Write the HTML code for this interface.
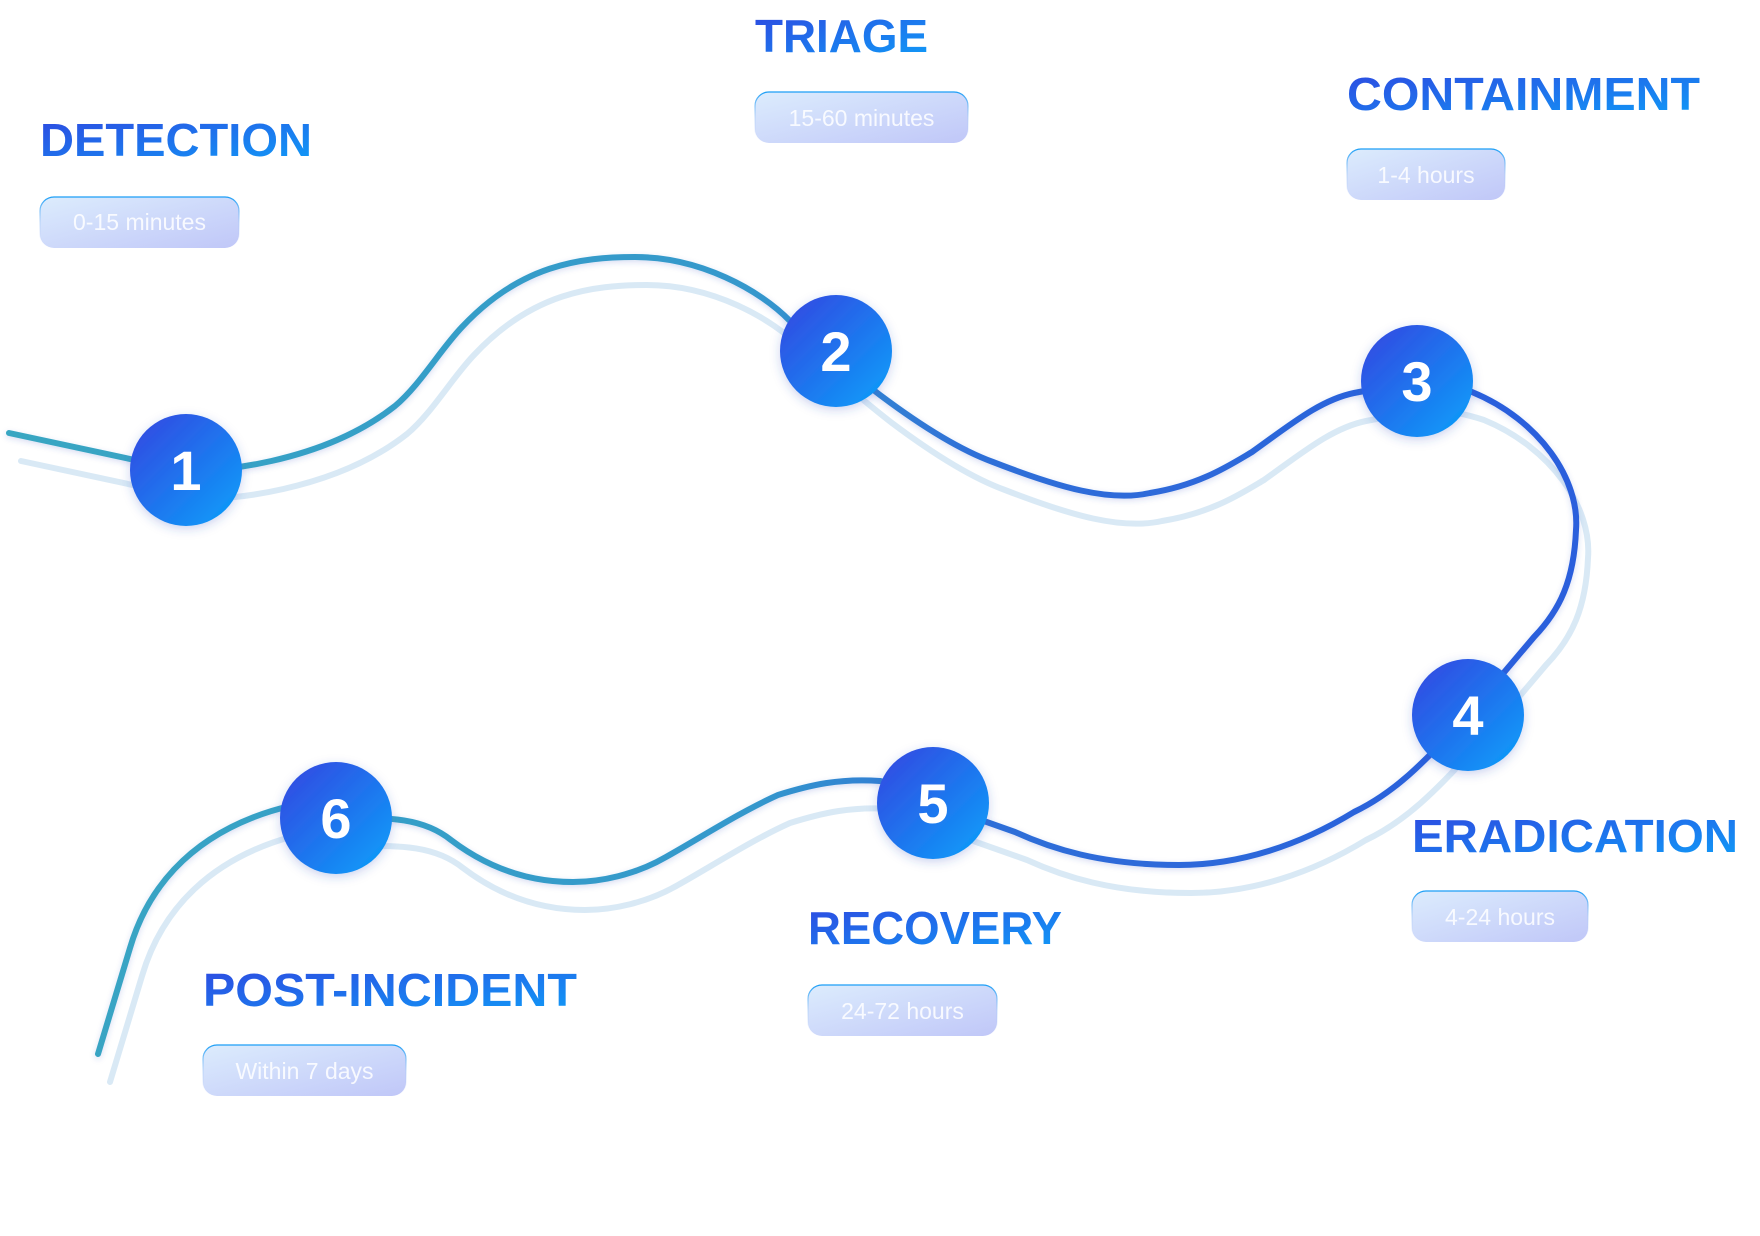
<!DOCTYPE html>
<html><head><meta charset="utf-8"><style>
html,body{margin:0;padding:0;background:#fff;width:1760px;height:1236px;overflow:hidden}
svg{display:block}
.t{font-family:"Liberation Sans",sans-serif;font-weight:700;font-size:46px}
.p{font-family:"Liberation Sans",sans-serif;font-size:23px;fill:rgba(255,255,255,0.85)}
.n{font-family:"Liberation Sans",sans-serif;font-weight:700;font-size:56px;fill:#fff}
</style></head><body>
<svg width="1760" height="1236" viewBox="0 0 1760 1236" xmlns="http://www.w3.org/2000/svg">
<defs>
<linearGradient id="tg" x1="0" y1="0" x2="1" y2="1"><stop offset="0" stop-color="#2e48e0"/><stop offset="1" stop-color="#0f9df8"/></linearGradient>
<linearGradient id="cg" x1="0" y1="0" x2="1" y2="1"><stop offset="0" stop-color="#3544e0"/><stop offset="1" stop-color="#0aa2fb"/></linearGradient>
<linearGradient id="pg" x1="0" y1="0" x2="1" y2="1"><stop offset="0" stop-color="#dcecfd"/><stop offset="1" stop-color="#c0c7f8"/></linearGradient>
<linearGradient id="pb" x1="0" y1="0" x2="0" y2="1"><stop offset="0" stop-color="#1a9ef6"/><stop offset="0.5" stop-color="#9ec4f6" stop-opacity="0.5"/><stop offset="1" stop-color="#c0c7f8" stop-opacity="0"/></linearGradient>
<linearGradient id="lg" gradientUnits="userSpaceOnUse" x1="0" y1="0" x2="1500" y2="0"><stop offset="0" stop-color="#38a6c2"/><stop offset="0.5" stop-color="#3498cc"/><stop offset="0.65" stop-color="#2f6fd8"/><stop offset="1" stop-color="#2a5fdc"/></linearGradient>
<filter id="sh" x="-30%" y="-30%" width="160%" height="160%"><feDropShadow dx="0" dy="3" stdDeviation="5" flood-color="#3050c0" flood-opacity="0.25"/></filter>
<filter id="ls"><feDropShadow dx="0" dy="2" stdDeviation="3" flood-color="#3050c0" flood-opacity="0.2"/></filter>
</defs>
<g fill="none" stroke-linecap="round" stroke-linejoin="round">
<path id="ghost" transform="translate(12,28)" stroke="#cfe3f2" stroke-opacity="0.8" stroke-width="6" d="M9,433 L186,471 C210,472 320,465 395,406 C420,385 440,350 462,327 C520,265 580,257 635,257 C700,257 760,290 790,321 C820,345 850,372 880,395 C920,425 960,450 993,462 C1060,488 1110,502 1150,493 C1200,485 1230,465 1252,452 C1290,425 1320,400 1354,393 L1417,381 C1440,383 1460,388 1472,392 C1540,420 1580,480 1576,530 C1574,580 1560,610 1534,637 L1468,715 C1430,755 1400,790 1354,812 C1300,845 1240,865 1179,865 C1100,865 1050,848 1015,832 L933,803 C900,785 880,781 880,781 C840,778 810,785 778,795 C740,812 700,838 666,857 C635,875 600,882 573,882 C520,882 480,862 451,840 C420,815 380,818 336,818 C310,810 282,808 282,808 C200,830 150,880 130,948 L98,1054"/>
<path filter="url(#ls)" stroke="url(#lg)" stroke-width="6" d="M9,433 L186,471 C210,472 320,465 395,406 C420,385 440,350 462,327 C520,265 580,257 635,257 C700,257 760,290 790,321 C820,345 850,372 880,395 C920,425 960,450 993,462 C1060,488 1110,502 1150,493 C1200,485 1230,465 1252,452 C1290,425 1320,400 1354,393 L1417,381 C1440,383 1460,388 1472,392 C1540,420 1580,480 1576,530 C1574,580 1560,610 1534,637 L1468,715 C1430,755 1400,790 1354,812 C1300,845 1240,865 1179,865 C1100,865 1050,848 1015,832 L933,803 C900,785 880,781 880,781 C840,778 810,785 778,795 C740,812 700,838 666,857 C635,875 600,882 573,882 C520,882 480,862 451,840 C420,815 380,818 336,818 C310,810 282,808 282,808 C200,830 150,880 130,948 L98,1054"/>
</g>
<g filter="url(#sh)">
<circle cx="186" cy="470" r="56" fill="url(#cg)"/>
<circle cx="836" cy="351" r="56" fill="url(#cg)"/>
<circle cx="1417" cy="381" r="56" fill="url(#cg)"/>
<circle cx="1468" cy="715" r="56" fill="url(#cg)"/>
<circle cx="933" cy="803" r="56" fill="url(#cg)"/>
<circle cx="336" cy="818" r="56" fill="url(#cg)"/>
</g>
<g class="n" text-anchor="middle">
<text x="186" y="490" class="n">1</text>
<text x="836" y="371" class="n">2</text>
<text x="1417" y="401" class="n">3</text>
<text x="1468" y="735" class="n">4</text>
<text x="933" y="823" class="n">5</text>
<text x="336" y="838" class="n">6</text>
</g>
<g fill="url(#tg)">
<text class="t" x="40" y="156" textLength="272" lengthAdjust="spacingAndGlyphs">DETECTION</text>
<text class="t" x="755" y="52" textLength="173" lengthAdjust="spacingAndGlyphs">TRIAGE</text>
<text class="t" x="1347" y="110" textLength="353" lengthAdjust="spacingAndGlyphs">CONTAINMENT</text>
<text class="t" x="1412" y="852" textLength="326" lengthAdjust="spacingAndGlyphs">ERADICATION</text>
<text class="t" x="808" y="944" textLength="254" lengthAdjust="spacingAndGlyphs">RECOVERY</text>
<text class="t" x="203" y="1006" textLength="374" lengthAdjust="spacingAndGlyphs">POST-INCIDENT</text>
</g>
<g>
<rect x="40" y="197" width="199" height="51" rx="14" fill="url(#pg)" stroke="url(#pb)" stroke-width="1.2"/>
<text class="p" x="139.5" y="230" text-anchor="middle">0-15 minutes</text>
<rect x="755" y="92" width="213" height="51" rx="14" fill="url(#pg)" stroke="url(#pb)" stroke-width="1.2"/>
<text class="p" x="861.5" y="126" text-anchor="middle">15-60 minutes</text>
<rect x="1347" y="149" width="158" height="51" rx="14" fill="url(#pg)" stroke="url(#pb)" stroke-width="1.2"/>
<text class="p" x="1426" y="183" text-anchor="middle">1-4 hours</text>
<rect x="1412" y="891" width="176" height="51" rx="14" fill="url(#pg)" stroke="url(#pb)" stroke-width="1.2"/>
<text class="p" x="1500" y="925" text-anchor="middle">4-24 hours</text>
<rect x="808" y="985" width="189" height="51" rx="14" fill="url(#pg)" stroke="url(#pb)" stroke-width="1.2"/>
<text class="p" x="902.5" y="1019" text-anchor="middle">24-72 hours</text>
<rect x="203" y="1045" width="203" height="51" rx="14" fill="url(#pg)" stroke="url(#pb)" stroke-width="1.2"/>
<text class="p" x="304.5" y="1079" text-anchor="middle">Within 7 days</text>
</g>
</svg>
</body></html>
